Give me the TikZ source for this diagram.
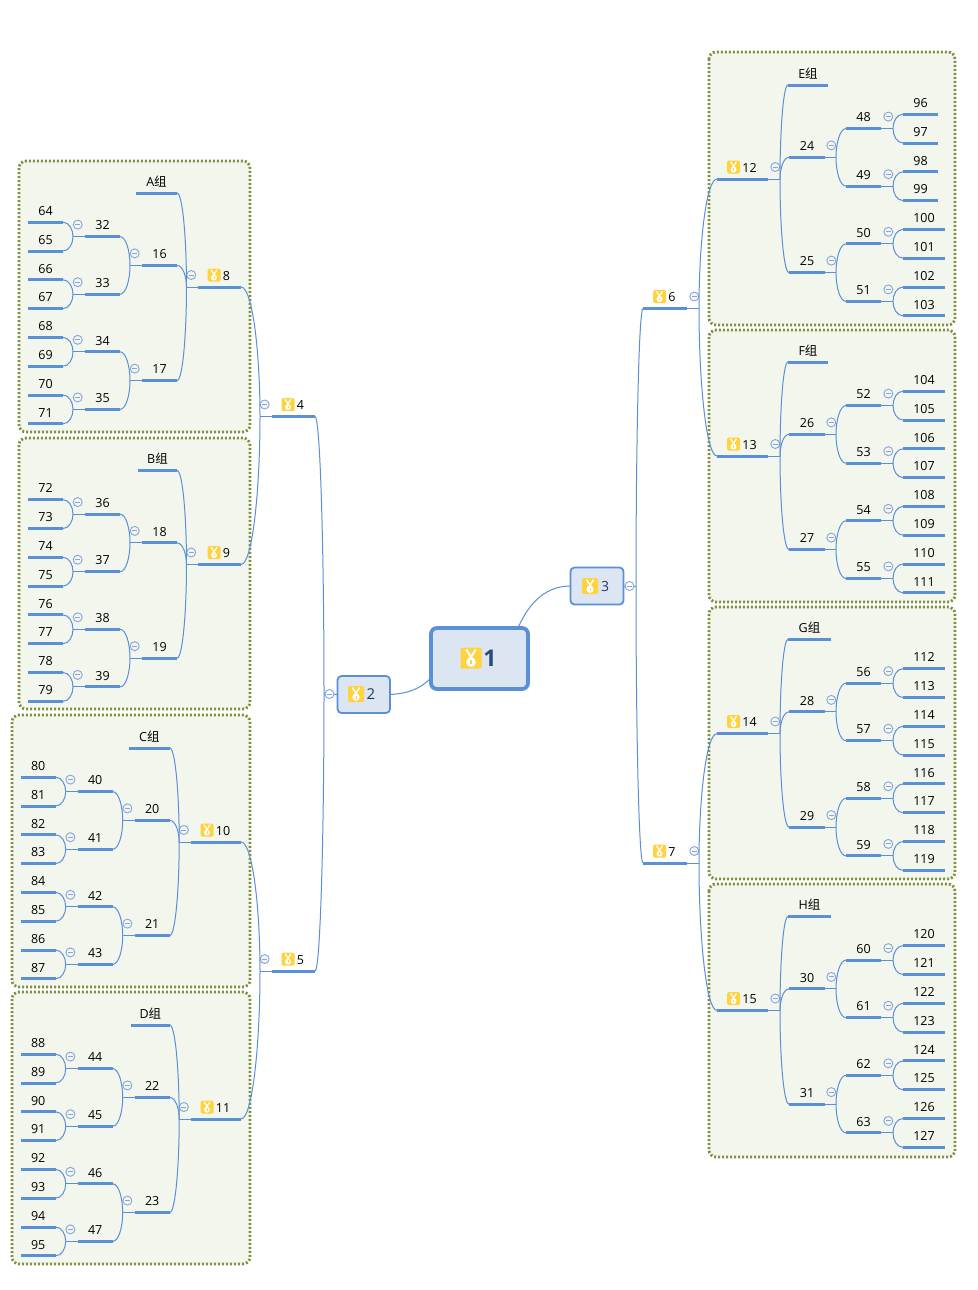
\documentclass[tikz,border=0pt]{standalone}
\usepackage{fontspec}
\setmainfont{Open Sans}
\newfontfamily\cjk{Noto Sans CJK SC}
\usetikzlibrary{calc}
\definecolor{linecol}{HTML}{5B8FD6}
\definecolor{btncol}{HTML}{86A4E0}
\definecolor{framecol}{HTML}{7F9140}
\definecolor{framefill}{HTML}{F2F6EC}
\definecolor{boxfill}{HTML}{DCE5F2}
\definecolor{medalcol}{HTML}{FFD23F}
\definecolor{navy}{HTML}{1F3864}
\tikzset{
  lab/.style={inner sep=0pt,outer sep=0pt,minimum height=22.6pt,anchor=south west,text height=9pt,text depth=0pt,font=\fontsize{12.5}{14}\selectfont,text=black},
  bar/.style={draw=linecol,line width=3pt},
  conn/.style={draw=linecol,line width=1pt},
  btn/.style={circle,draw=btncol,line width=.9pt,fill=framefill,minimum size=9pt,inner sep=0pt,outer sep=0pt,
    path picture={\draw[btncol,line width=.9pt] (-2.5pt,0pt) -- (2.5pt,0pt);}},
  grp/.style={draw=framecol,fill=framefill,line width=2.8pt,rounded corners=7pt,dash pattern=on 2pt off 2pt},
  topbox/.style={rectangle,draw=linecol,fill=boxfill,rounded corners=4pt,inner sep=0pt,outer sep=0pt,anchor=north west},
}
% labelled underline: name, text, x1, x2, y of the bar
\newcommand\lnode[5]{%
  \node[lab,minimum width={(#4)-(#3)}] (n#1) at ({#3},{#5}) {#2};
  \draw[bar] (n#1.south west) -- (n#1.south east);}
% curved connector from a bar end to a junction
\newcommand\brk[2]{%
  \draw[conn] (#1) .. controls ($(#1)!.6!(#1 -| #2)$) and ($(#2)!.5!(#2 |- #1)$) .. (#2);}
% medal icon: x, y, size, stroke width
\newcommand\medal[4]{%
  \begin{scope}[shift={({#1},{#2})},scale=#3/13]
    \fill[medalcol,rounded corners=1.5] (-6.5,-6.5) rectangle (6.5,6.5);
    \draw[white,line width=#4] (-2.9,-5.2) -- (1,1) (2.9,-5.2) -- (-1,1);
    \fill[white] (0,2.6) circle[radius=3];
    \fill[medalcol] (-.35,1.3) rectangle (.35,3.9);
  \end{scope}}
% junction after a parent's bar, with its button
\newcommand\junc[3]{% id, jx, y
  \coordinate (j#1) at ({#2},{#3});
  \draw[conn] (n#1.\pAnc) -- (j#1);
  \node[btn] (b#1) at ({#2+\btnOff},{#3-12}) {};}
% group node with medal: id, x1, x2, y, icon offset from bar centre
\newcommand\gnode[5]{%
  \lnode{#1}{\hspace*{14pt}#1}{#2}{#3}{#4}
  \medal{(#2+#3)/2+#5}{#4-12}{13}{1.2pt}}
% a whole group
\newcommand\treeblock[3]{% group id, title, Y
  \junc{#1}{\xJa}{#3}
  \lnode{t#1}{#2}{\xTa}{\xTb}{#3-94}
  \brk{nt#1.\cAnc}{j#1}
  \foreach \a in {0,1}{
    \pgfmathtruncatemacro\Mid{2*#1+\a}
    \pgfmathsetmacro\My{#3-21.6+115.2*\a}
    \lnode{\Mid}{\Mid}{\xMa}{\xMb}{\My}
    \brk{n\Mid.\cAnc}{j#1}
    \junc{\Mid}{\xJb}{\My}
    \foreach \b in {0,1}{
      \pgfmathtruncatemacro\Lid{2*\Mid+\b}
      \pgfmathsetmacro\Ly{\My-28.8+57.6*\b}
      \lnode{\Lid}{\Lid}{\xLa}{\xLb}{\Ly}
      \brk{n\Lid.\cAnc}{j\Mid}
      \junc{\Lid}{\xJc}{\Ly}
      \foreach \c in {0,1}{
        \pgfmathtruncatemacro\Fid{2*\Lid+\c}
        \pgfmathsetmacro\Fy{\Ly-14.4+28.8*\c}
        \ifnum\Fid>99 \def\xFe{\xFc}\else\def\xFe{\xFb}\fi
        \lnode{\Fid}{\Fid}{\xFa}{\xFe}{\Fy}
        \brk{n\Fid.\cAnc}{j\Lid}
      }
    }
  }}
\newcommand\leftgeom[1]{%
  \def\pAnc{south west}\def\cAnc{south east}\def\btnOff{4.7}%
  \pgfmathsetmacro\xFa{28+#1}\pgfmathsetmacro\xFb{63+#1}\let\xFc\xFb
  \pgfmathsetmacro\xJc{73+#1}\pgfmathsetmacro\xLa{85+#1}\pgfmathsetmacro\xLb{120+#1}
  \pgfmathsetmacro\xJb{130+#1}\pgfmathsetmacro\xMa{142+#1}\pgfmathsetmacro\xMb{177+#1}
  \pgfmathsetmacro\xJa{186.5+#1}\let\xTb\xMb}
\newcommand\rightgeom{%
  \def\pAnc{south east}\def\cAnc{south west}\def\btnOff{-4.7}%
  \def\xFa{903}\def\xFb{938}\def\xFc{945}\def\xJc{893}\def\xLa{846}\def\xLb{881}
  \def\xJb{836}\def\xMa{789}\def\xMb{825}\def\xJa{780}\def\xTa{788}}
\begin{document}
\begin{tikzpicture}[x=1pt,y=-1pt]
\useasboundingbox (0,0) rectangle (977,1290);
\fill[white] (0,0) rectangle (977,1290);
% group frames
\draw[grp] (19,161) rectangle (250,432);
\draw[grp] (19,438) rectangle (250,709);
\draw[grp] (12,715) rectangle (250,987);
\draw[grp] (12,992) rectangle (250,1264);
\draw[grp] (709,52) rectangle (955,325);
\draw[grp] (709,330) rectangle (955,602);
\draw[grp] (709,607) rectangle (955,879);
\draw[grp] (709,884) rectangle (955,1157);
% group nodes
\def\pAnc{south west}\def\cAnc{south east}\def\btnOff{4.7}
\gnode{8}{198}{241}{287}{-5.5}
\gnode{9}{198}{241}{564.5}{-5.5}
\gnode{10}{191}{241}{842}{-9}
\gnode{11}{191}{241}{1119}{-9}
\gnode{12}{717}{768}{179}{-9}
\gnode{13}{717}{768}{456}{-9}
\gnode{14}{717}{768}{733.5}{-9}
\gnode{15}{717}{768}{1010.5}{-9}
\gnode{4}{272}{315}{416.5}{-5.5}
\gnode{5}{272}{315}{971}{-5.5}
\gnode{6}{643}{687}{308.5}{-5.5}
\gnode{7}{643}{687}{863}{-5.5}
% left blocks
\begin{scope}\leftgeom{0}\def\xTa{136}\treeblock{8}{A{\cjk 组}}{287}\end{scope}
\begin{scope}\leftgeom{0}\def\xTa{138}\treeblock{9}{B{\cjk 组}}{564.5}\end{scope}
\begin{scope}\leftgeom{-7.3}\def\xTa{129}\treeblock{10}{C{\cjk 组}}{842}\end{scope}
\begin{scope}\leftgeom{-7.3}\def\xTa{131}\treeblock{11}{D{\cjk 组}}{1119}\end{scope}
% right blocks
\begin{scope}\rightgeom\def\xTb{828}\treeblock{12}{E{\cjk 组}}{179}\end{scope}
\begin{scope}\rightgeom\def\xTb{828}\treeblock{13}{F{\cjk 组}}{456}\end{scope}
\begin{scope}\rightgeom\def\xTb{831}\treeblock{14}{G{\cjk 组}}{733.5}\end{scope}
\begin{scope}\rightgeom\def\xTb{831}\treeblock{15}{H{\cjk 组}}{1010.5}\end{scope}
% second level
\begin{scope}\def\pAnc{south west}\def\cAnc{south east}\def\btnOff{4.7}
  \junc{4}{260}{416.5}\junc{5}{260}{971}
  \brk{n8.south east}{j4}\brk{n9.south east}{j4}
  \brk{n10.south east}{j5}\brk{n11.south east}{j5}
\end{scope}
\begin{scope}\def\pAnc{south east}\def\cAnc{south west}\def\btnOff{-4.7}
  \junc{6}{699}{308.5}\junc{7}{699}{863}
  \brk{n12.south west}{j6}\brk{n13.south west}{j6}
  \brk{n14.south west}{j7}\brk{n15.south west}{j7}
\end{scope}
% central boxes
\node[topbox,line width=3.8pt,rounded corners=6pt,minimum width=97pt,minimum height=61pt] (n1) at (431,628) {};
\node[topbox,line width=1.8pt,minimum width=52.5pt,minimum height=37pt] (n2) at (337.5,676) {};
\node[topbox,line width=1.8pt,minimum width=53pt,minimum height=37pt] (n3) at (570.5,567.5) {};
\node[font=\bfseries\fontsize{23}{26}\selectfont,text=navy!80!linecol,inner sep=0pt] (t1) at (490,658) {1};
\node[font=\fontsize{15}{17}\selectfont,text=navy,inner sep=0pt] (t2) at (371,694) {2};
\node[font=\fontsize{14}{17}\selectfont,text=navy,inner sep=0pt] (t3) at (605,586) {3};
\medal{471}{658}{21}{2pt}
\medal{356}{694}{16}{1.5pt}
\medal{590}{586}{16}{1.5pt}
% top connectors
\coordinate (j2) at (324,694);
\coordinate (j3) at (636,586);
\draw[conn] (n2.west) -- (j2);
\draw[conn] (n3.east) -- (j3);
\brk{n4.south east}{j2}
\brk{n5.south east}{j2}
\brk{n6.south west}{j3}
\brk{n7.south west}{j3}
\node[btn,fill=white] (b2) at (329.5,694) {};
\node[btn,fill=white] (b3) at (629.5,586) {};
\draw[conn] (n3.west) .. controls (548,586) and (530,600) .. ($(n1.north east)+(-10,0)$);
\draw[conn] (n2.east) .. controls (408,693.5) and (420,689) .. ($(n1.south west)+(0,-11)$);
\end{tikzpicture}
\end{document}
